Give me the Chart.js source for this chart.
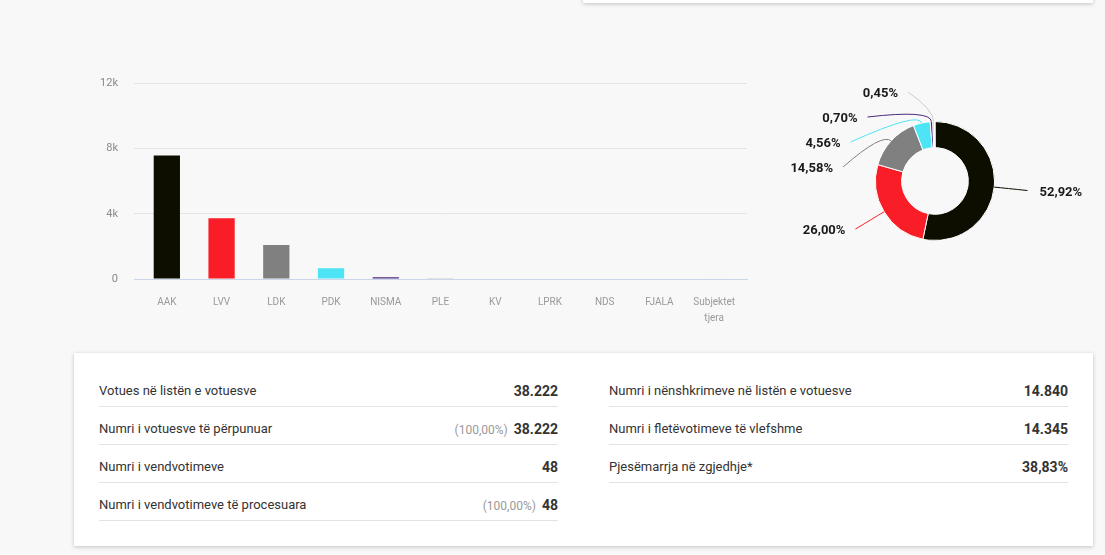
<!DOCTYPE html>
<html>
<head>
<meta charset="utf-8">
<script src="https://cdn.jsdelivr.net/npm/chart.js@4/dist/chart.umd.min.js"></script>
<style>
    body { margin: 0; background: #f8f8f8; font-family: Roboto, sans-serif; width: 1105px; height: 555px; overflow: hidden; position: relative; }
    .card { position: absolute; background: #fff; box-shadow: 0 1px 4px rgba(0,0,0,0.22); }
    #topCard { left: 583px; top: -20px; width: 510px; height: 23px; }
    #statsCard { left: 74px; top: 353px; width: 1019px; height: 193px; }
    #barWrap { position: absolute; left: 80px; top: 61px; width: 680px; height: 279px; }
    #pieWrap { position: absolute; left: 765px; top: 60px; width: 340px; height: 240px; }
    .col { position: absolute; top: 21px; width: 459px; }
    .row { height: 33px; border-bottom: 1px solid #e3e3e3; margin-bottom: 5px; display: flex; align-items: center; justify-content: space-between; font-size: 13px; color: #333; box-sizing: border-box; padding-top: 1px; }
    .row .val { font-weight: bold; font-size: 14px; color: #333; }
    .row .pct { color: #999; font-size: 12px; margin-right: 6px; font-weight: normal; }
</style>
</head>
<body>
<div class="card" id="topCard"></div>
<div id="barWrap"><canvas id="barChart"></canvas></div>
<div id="pieWrap"><canvas id="pieChart"></canvas></div>
<div class="card" id="statsCard">
    <div class="col" id="colLeft" style="left: 25px;"></div>
    <div class="col" id="colRight" style="left: 535px;"></div>
</div>
<script>
// party results (votes)
const parties = ['AAK', 'LVV', 'LDK', 'PDK', 'NISMA', 'PLE', 'KV', 'LPRK', 'NDS', 'FJALA', ['Subjektet', 'tjera']];
const votes = [7591, 3730, 2092, 654, 100, 65, 0, 0, 0, 0, 20];
const partyColors = ['#0e0e00', '#f91d27', '#808080', '#4de5f6', '#4a2a7c', '#cccccc', '#aaaaaa', '#aaaaaa', '#aaaaaa', '#aaaaaa', '#eeeeee'];
const yTicks = [0, 4000, 8000, 12000];
const validVotes = 14345;

// stats table
const leftLabels = ['Votues në listën e votuesve', 'Numri i votuesve të përpunuar', 'Numri i vendvotimeve', 'Numri i vendvotimeve të procesuara'];
const leftPct = ['', '(100,00%)', '', '(100,00%)'];
const leftValues = ['38.222', '38.222', '48', '48'];
const rightLabels = ['Numri i nënshkrimeve në listën e votuesve', 'Numri i fletëvotimeve të vlefshme', 'Pjesëmarrja në zgjedhje*'];
const rightValues = ['14.840', '14.345', '38,83%'];

function fillColumn(id, labels, pcts, values) {
    const col = document.getElementById(id);
    col.innerHTML = labels.map((l, i) => `<div class="row"><span>${l}</span><span>${pcts[i] ? '<span class="pct">' + pcts[i] + '</span>' : ''}<span class="val">${values[i]}</span></span></div>`).join('');
}
fillColumn('colLeft', leftLabels, leftPct, leftValues);
fillColumn('colRight', rightLabels, ['', '', ''], rightValues);

Chart.defaults.font.family = 'Roboto, sans-serif';
Chart.defaults.animation = false;

// linear x so the categories sit a little inside the plot like the original
new Chart(document.getElementById('barChart'), {
    type: 'bar',
    data: {
        datasets: [{
            data: votes.map((v, i) => ({ x: i, y: v })),
            backgroundColor: partyColors,
            barPercentage: 0.6,
            categoryPercentage: 0.8
        }]
    },
    options: {
        responsive: true,
        maintainAspectRatio: false,
        layout: { padding: { top: 4, right: 13, bottom: 11, left: 0 } },
        plugins: { legend: { display: false }, tooltip: { enabled: false } },
        scales: {
            x: {
                type: 'linear',
                offset: false,
                min: -0.6, max: 10.6,
                afterBuildTicks: s => { s.ticks = parties.map((p, i) => ({ value: i })); },
                grid: { display: false, drawTicks: false },
                border: { color: '#ccd6eb' },
                ticks: {
                    color: '#999', font: { size: 10, lineHeight: 1.6 }, padding: 15, maxRotation: 0, autoSkip: false,
                    callback: v => parties[v]
                },
                afterFit: s => { s.height = 50; }
            },
            y: {
                min: 0, max: 12000,
                afterBuildTicks: s => { s.ticks = yTicks.map(v => ({ value: v })); },
                grid: { color: '#e4e4e4', drawTicks: false },
                border: { display: false },
                ticks: {
                    color: '#8a8a8a', font: { size: 11 }, padding: 16,
                    callback: v => v === 0 ? '0' : (v / 1000) + 'k'
                },
                afterFit: s => { s.width = 54; }
            }
        }
    }
});

// draws the percentage labels with leader lines round the doughnut
const outLabels = {
    id: 'outLabels',
    afterDatasetsDraw(chart) {
        const ctx = chart.ctx;
        const arcs = chart.getDatasetMeta(0).data;
        const R = 93, gap = 25, minY = 32;
        let items = [];
        arcs.forEach((arc, i) => {
            const v = votes[i];
            if (v / validVotes < 0.003) return;
            const p = arc.getProps(['x', 'y', 'startAngle', 'endAngle', 'outerRadius'], true);
            const mid = (p.startAngle + p.endAngle) / 2;
            items.push({
                i: i, cx: p.x, cy: p.y, r: p.outerRadius, mid: mid,
                right: Math.cos(mid) >= 0,
                y: p.y + R * Math.sin(mid),
                text: (v / validVotes * 100).toFixed(2).replace('.', ',') + '%'
            });
        });
        [true, false].forEach(side => {
            const list = items.filter(it => it.right === side).sort((a, b) => a.y - b.y);
            let last = minY - gap;
            list.forEach(it => {
                if (it.y < last + gap) it.y = last + gap;
                last = it.y;
            });
        });
        ctx.save();
        items.forEach(it => {
            const dy = it.y - it.cy;
            const dx = Math.sqrt(Math.max(R * R - dy * dy, 0));
            const ex = it.right ? it.cx + dx : it.cx - dx;
            const sx = it.cx + it.r * Math.cos(it.mid), sy = it.cy + it.r * Math.sin(it.mid);
            const qx = it.cx + (it.r + 12) * Math.cos(it.mid), qy = it.cy + (it.r + 12) * Math.sin(it.mid);
            ctx.strokeStyle = partyColors[it.i];
            ctx.lineWidth = 1;
            ctx.beginPath();
            ctx.moveTo(sx, sy);
            ctx.quadraticCurveTo(qx, qy, ex, it.y);
            ctx.stroke();
            ctx.fillStyle = '#1a1a1a';
            ctx.font = 'bold 13px Roboto, sans-serif';
            ctx.textBaseline = 'middle';
            ctx.textAlign = it.right ? 'left' : 'right';
            ctx.fillText(it.text, it.right ? ex + 12 : ex - 10, it.y + 2);
        });
        ctx.restore();
    }
};

new Chart(document.getElementById('pieChart'), {
    type: 'doughnut',
    data: {
        labels: parties,
        datasets: [{
            data: votes,
            backgroundColor: partyColors,
            borderColor: '#ffffff',
            borderWidth: 1
        }]
    },
    options: {
        responsive: true,
        maintainAspectRatio: false,
        cutout: '56%',
        layout: { padding: { top: 61, bottom: 59, left: 110, right: 110 } },
        plugins: { legend: { display: false }, tooltip: { enabled: false } }
    },
    plugins: [outLabels]
});
</script>
</body>
</html>
